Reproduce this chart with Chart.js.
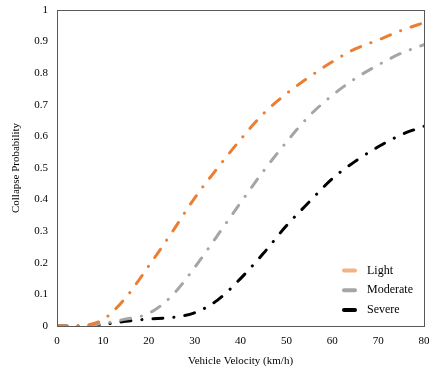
<!DOCTYPE html>
<html>
<head>
<meta charset="utf-8">
<script src="https://cdn.jsdelivr.net/npm/chart.js@4.4.1/dist/chart.umd.min.js"></script>
<style>
  html, body { margin: 0; padding: 0; background: #fff; }
  #wrap { width: 429px; height: 372px; position: relative; }
</style>
</head>
<body>
<div id="wrap"><canvas id="fragilityChart"></canvas></div>
<script>
// Vehicle velocity (km/h)
const velocity = [0, 5, 10, 15, 20, 25, 30, 35, 40, 45, 50, 55, 60, 65, 70, 75, 80];

// Collapse probability
const light    = [0, 0.001, 0.02, 0.09, 0.19, 0.295, 0.405, 0.50, 0.59, 0.672, 0.735, 0.788, 0.836, 0.877, 0.905, 0.935, 0.96];
const moderate = [0, 0, 0.008, 0.022, 0.04, 0.095, 0.185, 0.287, 0.39, 0.49, 0.582, 0.665, 0.73, 0.783, 0.826, 0.863, 0.89];
const severe   = [0, 0, 0.005, 0.015, 0.022, 0.027, 0.042, 0.082, 0.15, 0.23, 0.317, 0.393, 0.466, 0.521, 0.567, 0.605, 0.632];

const seriesNames = ['Light', 'Moderate', 'Severe'];
const seriesColors = ['#ED7D31', '#A5A5A5', '#000000'];
const legendColors = ['#F4B183', '#A5A5A5', '#000000'];

const serif = "'Liberation Serif', 'Times New Roman', serif";

function makeSet(name, values, color) {
  return {
    label: name,
    data: velocity.map((v, i) => ({ x: v, y: values[i] })),
    borderColor: color,
    backgroundColor: color,
    borderWidth: 3,
    borderDash: [10, 11, 0.1, 11],
    borderCapStyle: 'round',
    pointRadius: 0,
    tension: 0.4,
    cubicInterpolationMode: 'monotone',
    fill: false
  };
}

// box round the plot area
const frameBox = {
  id: 'frameBox',
  afterDraw(chart) {
    const a = chart.chartArea;
    const c = chart.ctx;
    c.save();
    c.strokeStyle = '#595959';
    c.lineWidth = 1;
    c.strokeRect(Math.round(a.left) + 0.5, Math.round(a.top) + 0.5,
                 Math.round(a.right - a.left), Math.round(a.bottom - a.top));
    c.restore();
  }
};

// legend drawn inside the plot, lower right
const insideLegend = {
  id: 'insideLegend',
  afterDraw(chart) {
    const c = chart.ctx;
    const a = chart.chartArea;
    c.save();
    c.font = '12px ' + serif;
    c.textBaseline = 'middle';
    chart.data.datasets.forEach((ds, i) => {
      const y = a.bottom - 55.5 + i * 19.7;
      const x = a.right - 82;
      c.strokeStyle = legendColors[i];
      c.lineWidth = 4;
      c.lineCap = 'round';
      c.beginPath();
      c.moveTo(x + 2, y);
      c.lineTo(x + 13, y);
      c.stroke();
      c.fillStyle = '#000';
      c.fillText(ds.label, x + 25, y);
    });
    c.restore();
  }
};

const ctx = document.getElementById('fragilityChart').getContext('2d');
const fragilityChart = new Chart(ctx, {
  type: 'line',
  data: {
    datasets: [
      makeSet(seriesNames[0], light, seriesColors[0]),
      makeSet(seriesNames[1], moderate, seriesColors[1]),
      makeSet(seriesNames[2], severe, seriesColors[2])
    ]
  },
  options: {
    responsive: true,
    maintainAspectRatio: false,
    animation: false,
    layout: { padding: { top: 10, right: 5, left: 0, bottom: 0 } },
    plugins: {
      legend: { display: false },
      tooltip: { enabled: false }
    },
    scales: {
      x: {
        type: 'linear',
        min: 0,
        max: 80,
        grid: { display: false, drawTicks: false },
        border: { display: false },
        ticks: {
          stepSize: 10,
          padding: 9,
          color: '#000',
          font: { family: serif, size: 11 }
        },
        title: {
          display: true,
          text: 'Vehicle Velocity (km/h)',
          color: '#000',
          font: { family: serif, size: 11 },
          padding: { top: 12 }
        },
        afterFit(scale) {
          scale.height = 46;
          scale.paddingLeft = 0;
          scale.paddingRight = 0;
        }
      },
      y: {
        min: 0,
        max: 1,
        grid: { display: false, drawTicks: false },
        border: { display: false },
        ticks: {
          stepSize: 0.1,
          padding: 9,
          color: '#000',
          font: { family: serif, size: 11 },
          callback: (v) => Number(v.toFixed(1)).toString()
        },
        title: {
          display: true,
          text: 'Collapse Probability',
          color: '#000',
          font: { family: serif, size: 11 },
          padding: { top: 10, bottom: 4 }
        },
        afterFit(scale) {
          scale.width = 57;
          scale.paddingTop = 0;
          scale.paddingBottom = 0;
        }
      }
    }
  },
  plugins: [frameBox, insideLegend]
});
</script>
</body>
</html>
